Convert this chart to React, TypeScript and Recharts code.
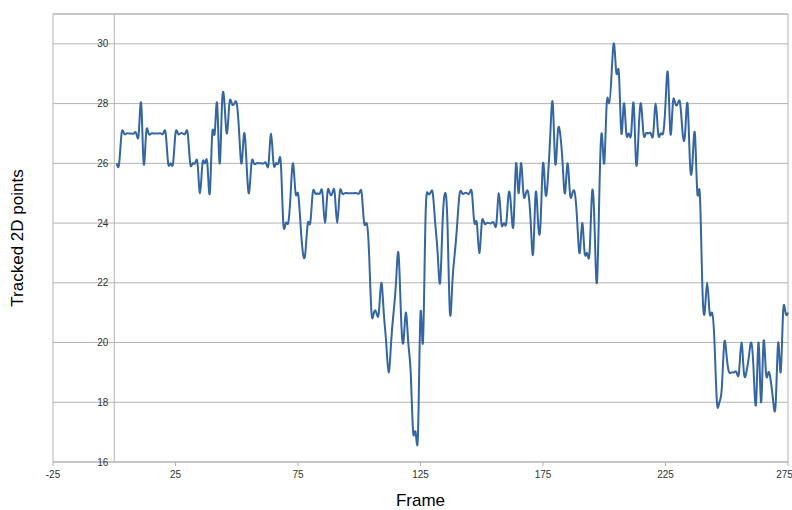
import React from 'react';
import { LineChart, Line, XAxis, YAxis, CartesianGrid, ReferenceLine } from 'recharts';

// tracked 2D point count per frame, starting at frame 1
const FIRST_FRAME = 1;
const TRACKED_POINTS = [
  26, 26, 27, 27, 27, 27, 27, 27, 27, 27,
  28, 26, 27, 27, 27, 27, 27, 27, 27, 27,
  27, 26, 26, 26, 27, 27, 27, 27, 27, 27,
  26, 26, 26, 26, 25, 26, 26, 26, 25, 27,
  27, 28, 26, 28, 28, 27, 28, 28, 28, 28,
  27, 26, 27, 26, 25, 26, 26, 26, 26, 26,
  26, 26, 26, 27, 26, 26, 26, 26, 24, 24,
  24, 25, 26, 25, 25, 24, 23, 23, 24, 24,
  25, 25, 25, 25, 25, 24, 25, 25, 25, 25,
  24, 25, 25, 25, 25, 25, 25, 25, 25, 25,
  25, 24, 24, 23, 21, 21, 21, 21, 22, 21,
  20, 19, 20, 21, 22, 23, 21, 20, 21, 20,
  19, 17, 17, 17, 21, 20, 24, 25, 25, 25,
  24, 23, 22, 24, 25, 24, 21, 22, 23, 24,
  25, 25, 25, 25, 25, 25, 24, 24, 23, 24,
  24, 24, 24, 24, 24, 24, 25, 24, 24, 24,
  25, 24.5, 24, 26, 25, 26, 25, 25, 25, 24,
  23, 25, 24, 24, 26, 25, 25.5, 27, 28, 26,
  27, 27, 26, 25, 26, 25, 25, 25, 24, 23,
  24, 23, 23, 23, 25, 24, 22, 25, 27, 26,
  28, 28, 29, 30, 29, 29, 27, 28, 27, 27,
  27, 28, 26, 27, 28, 27, 27, 27, 27, 27,
  28, 27, 27, 27, 28, 29, 27, 28, 28, 28,
  28, 27, 27, 28, 26, 26, 27, 25, 25, 22,
  21, 22, 21, 21, 20, 18, 18, 18.5, 20, 19.5,
  19, 19, 19, 19, 19, 20, 19, 19, 19.5, 20,
  19, 18, 20, 18, 20, 19, 19, 18.7, 18, 18,
  20, 19, 21, 21, 21,
];

const X_TICKS = [-25, 25, 75, 125, 175, 225, 275];
const Y_TICKS = [16, 18, 20, 22, 24, 26, 28, 30];

const data = TRACKED_POINTS.map((points, i) => ({ frame: FIRST_FRAME + i, points }));

const W = 792;
const H = 510;
const PLOT_LEFT = 53;
const PLOT_RIGHT = 4;
const X_MIN = -25;
const X_MAX = 275;
// y axis crosses at frame 0, like the original spreadsheet chart
const AXIS_X = PLOT_LEFT + ((0 - X_MIN) / (X_MAX - X_MIN)) * (W - PLOT_LEFT - PLOT_RIGHT);
const GRID = '#b3b3b3';
const FONT = '"Liberation Sans", Arial, sans-serif';

function YTick({ y, payload }: any) {
  return (
    <text x={AXIS_X - 6} y={y} dy={3.5} textAnchor="end" fontSize={10} fill="#333" fontFamily={FONT}>
      {payload.value}
    </text>
  );
}

export default function App() {
  return (
    <div style={{ position: 'absolute', left: 0, top: 0, background: '#fff' }}>
      <LineChart
        width={W}
        height={H}
        data={data}
        margin={{ top: 14, right: PLOT_RIGHT, bottom: 0, left: 0 }}
        style={{ fontFamily: FONT }}
      >
        <CartesianGrid vertical={false} stroke={GRID} />
        <XAxis
          type="number"
          dataKey="frame"
          domain={[X_MIN, X_MAX]}
          ticks={X_TICKS}
          height={48}
          stroke={GRID}
          tickSize={4}
          tickMargin={5}
          tick={{ fontSize: 10, fill: '#333' }}
          label={() => (
            <text x={420.5} y={506} textAnchor="middle" fontSize={17} fill="#000" fontFamily={FONT}>
              Frame
            </text>
          )}
        />
        <YAxis
          type="number"
          domain={[16, 31]}
          ticks={Y_TICKS}
          width={PLOT_LEFT}
          stroke={GRID}
          tickLine={false}
          tick={(props: any) => <YTick {...props} />}
          label={() => (
            <text
              transform="translate(23,238) rotate(-90)"
              textAnchor="middle"
              fontSize={17}
              fill="#000"
              fontFamily={FONT}
            >
              Tracked 2D points
            </text>
          )}
        />
        <ReferenceLine x={0} stroke={GRID} />
        <ReferenceLine x={X_MAX} stroke={GRID} />
        <ReferenceLine y={31} stroke={GRID} />
        <Line
          type="natural"
          dataKey="points"
          stroke="#3465a4"
          strokeWidth={2}
          dot={false}
          isAnimationActive={false}
        />
      </LineChart>
    </div>
  );
}
